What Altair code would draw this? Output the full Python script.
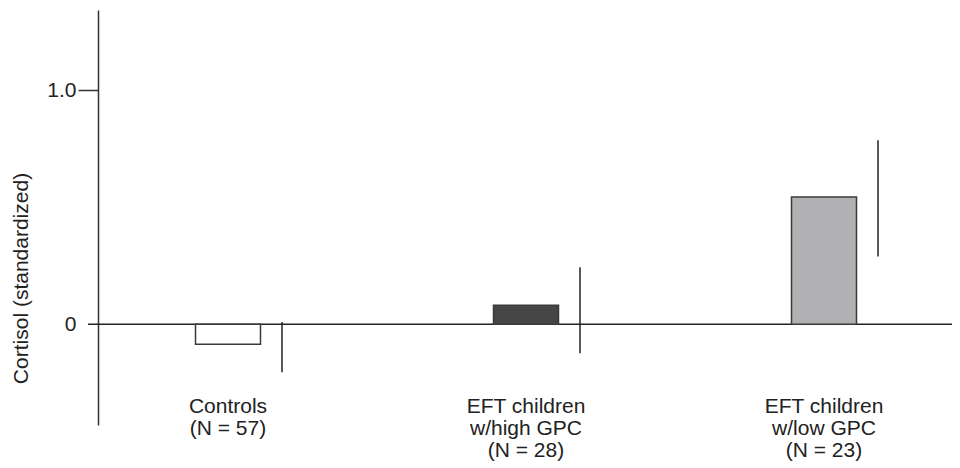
import altair as alt
import pandas as pd

groups = ["Controls", "EFT high", "EFT low"]
labels = ["Controls\n(N = 57)", "EFT children\nw/high GPC\n(N = 28)", "EFT children\nw/low GPC\n(N = 23)"]
means = [-0.085, 0.081, 0.543]
err_lo = [-0.205, -0.124, 0.29]
err_hi = [0.01, 0.244, 0.786]
fills = ["#ffffff", "#464646", "#b1b1b3"]
label_y = [-0.38, -0.38, -0.38]

df = pd.DataFrame({
    "group": groups, "label": labels, "mean": means,
    "lo": err_lo, "hi": err_hi, "fill": fills, "ly": label_y,
})

xs = alt.X("group:N", sort=groups,
           scale=alt.Scale(type="point", range=[134, 730], padding=0), axis=None)
yscale = alt.Scale(domain=[-0.43, 1.342], nice=False, zero=False)

base = alt.Chart(df)

bars = base.mark_bar(size=65, stroke="#3a3a3a", strokeWidth=1.5, xOffset=-4).encode(
    x=xs,
    y=alt.Y("mean:Q", scale=yscale,
            axis=alt.Axis(values=[0, 1], title="Cortisol (standardized)",
                          labelExpr="datum.value == 0 ? '0' : format(datum.value, '.1f')",
                          tickSize=20, labelPadding=2, grid=False,
                          domainColor="#333333", domainWidth=1.5,
                          tickColor="#333333", tickWidth=1.5,
                          tickOpacity={"condition": {"test": "datum.value == 0", "value": 0}, "value": 1},
                          labelFont="Liberation Sans", labelFontSize=21, labelColor="#222222",
                          titleFont="Liberation Sans", titleFontSize=21, titleFontWeight="normal",
                          titleColor="#222222", titleX=-77, titleY=268, titleAngle=270,
                          titleAlign="center", titleBaseline="middle")),
    y2=alt.datum(0),
    fill=alt.Fill("fill:N", scale=None),
)

zero = alt.Chart(pd.DataFrame({"z": [0]})).mark_rule(color="#222222", strokeWidth=1.5).encode(
    y=alt.Y("z:Q", scale=yscale),
    x=alt.value(-10),
    x2=alt.value(854),
)

errs = base.mark_rule(color="#222222", strokeWidth=1.5, xOffset=50).encode(
    x=xs,
    y=alt.Y("lo:Q", scale=yscale),
    y2="hi:Q",
)

texts = base.mark_text(font="Liberation Sans", fontSize=21, color="#222222",
                       lineBreak="\n", lineHeight=22, baseline="alphabetic",
                       align="center", dx=-4).encode(
    x=xs,
    y=alt.Y("ly:Q", scale=yscale),
    text="label:N",
)

chart = alt.layer(zero, bars, errs, texts).properties(
    width=854, height=415,
    autosize=alt.AutoSizeParams(type="none"),
    padding={"left": 90, "top": 2, "right": 0, "bottom": 40},
).configure_view(stroke=None)

chart.save("out.html", embed_options={"renderer": "svg", "actions": False})
